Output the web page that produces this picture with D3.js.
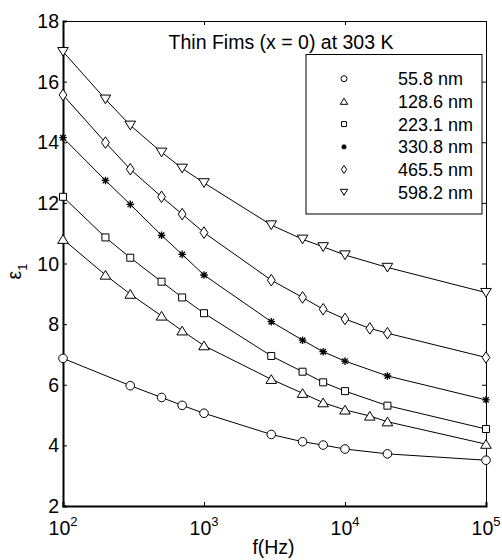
<!DOCTYPE html>
<html><head><meta charset="utf-8">
<script src="https://cdn.jsdelivr.net/npm/d3@7"></script>
<style>body{margin:0;background:#fff}svg{display:block;font-family:"Liberation Sans",Arial,sans-serif}</style>
</head><body><svg id="c" width="502" height="560"></svg>
<script>
// ---- data ----
const freqA = [100,300,500,700,1000,3000,5000,7000,10000,20000,100000];
const freqB = [100,200,300,500,700,1000,3000,5000,7000,10000,15000,20000,100000];
const freqC = [100,200,300,500,700,1000,3000,5000,7000,10000,20000,100000];
const eps558  = [6.87,5.97,5.58,5.32,5.06,4.36,4.12,4.01,3.88,3.72,3.51];
const eps1286 = [10.80,9.62,8.99,8.27,7.78,7.29,6.18,5.72,5.41,5.17,4.97,4.78,4.04];
const eps2231 = [12.20,10.86,10.19,9.40,8.88,8.36,6.95,6.43,6.08,5.79,5.31,4.54];
const eps3308 = [14.15,12.74,11.95,10.93,10.30,9.62,8.08,7.47,7.09,6.78,6.29,5.50];
const eps4655 = [15.56,13.99,13.11,12.20,11.63,11.02,9.45,8.88,8.49,8.17,7.86,7.70,6.90];
const eps5982 = [16.99,15.42,14.56,13.67,13.14,12.66,11.27,10.80,10.55,10.28,9.87,9.04];
const seriesNames = ["55.8 nm","128.6 nm","223.1 nm","330.8 nm","465.5 nm","598.2 nm"];
const seriesMarkers = ["circle","triangleUp","square","asterisk","diamond","triangleDown"];
const xTicks = [100,1000,10000,100000];
const xTickExp = ["2","3","4","5"];
const yTicks = [2,4,6,8,10,12,14,16,18];
const titleText = "Thin Fims (x = 0) at 303 K";

const series = [
  {name: seriesNames[0], marker: seriesMarkers[0], x: freqA, y: eps558},
  {name: seriesNames[1], marker: seriesMarkers[1], x: freqB, y: eps1286},
  {name: seriesNames[2], marker: seriesMarkers[2], x: freqC, y: eps2231},
  {name: seriesNames[3], marker: seriesMarkers[3], x: freqC, y: eps3308},
  {name: seriesNames[4], marker: seriesMarkers[4], x: freqB, y: eps4655},
  {name: seriesNames[5], marker: seriesMarkers[5], x: freqC, y: eps5982},
];

// ---- layout ----
const W = 502, H = 560;
const m = {l: 63, r: 16, t: 21, b: 54};
const svg = d3.select("#c");
const x = d3.scaleLog().domain([100, 100000]).range([m.l, W - m.r]);
const y = d3.scaleLinear().domain([2, 18]).range([H - m.b, m.t]);

function markerPath(type, s) {
  // s = scale factor
  const p = d3.path();
  if (type === "circle") { p.moveTo(4.3*s, 0); p.arc(0, 0, 4.3*s, 0, 2*Math.PI); }
  else if (type === "square") { const a = 3.5*s; p.rect(-a, -a, 2*a, 2*a); }
  else if (type === "diamond") { const w = 3.9*s, h = 5.8*s; p.moveTo(0,-h); p.lineTo(w,0); p.lineTo(0,h); p.lineTo(-w,0); p.closePath(); }
  else if (type === "triangleUp") { const w = 5.3*s, h = 4.6*s; p.moveTo(0,-h); p.lineTo(w,h*0.9); p.lineTo(-w,h*0.9); p.closePath(); }
  else if (type === "triangleDown") { const w = 5.3*s, h = 4.6*s; p.moveTo(0,h); p.lineTo(w,-h*0.9); p.lineTo(-w,-h*0.9); p.closePath(); }
  else if (type === "asterisk") {
    const r = 3.8*s, d = r*0.72;
    p.moveTo(-r,0); p.lineTo(r,0); p.moveTo(0,-r); p.lineTo(0,r);
    p.moveTo(-d,-d); p.lineTo(d,d); p.moveTo(-d,d); p.lineTo(d,-d);
  }
  return p.toString();
}

// ---- axes frame ----
const gx = svg.append("g").attr("transform", `translate(0,${H - m.b})`)
  .call(d3.axisBottom(x).tickValues(xTicks).tickSize(-4).tickFormat(""));
const gxTop = svg.append("g").attr("transform", `translate(0,${m.t})`)
  .call(d3.axisTop(x).tickValues(xTicks).tickSize(-4).tickFormat(""));
const gy = svg.append("g").attr("transform", `translate(${m.l},0)`)
  .call(d3.axisLeft(y).tickValues(yTicks).tickSize(-4).tickFormat(""));
const gyR = svg.append("g").attr("transform", `translate(${W - m.r},0)`)
  .call(d3.axisRight(y).tickValues(yTicks).tickSize(-4).tickFormat(""));
[gx, gxTop, gy, gyR].forEach(g => {
  g.selectAll("path.domain").attr("stroke", "#000").attr("stroke-width", 1);
  g.selectAll(".tick line").attr("stroke", "#000").attr("stroke-width", 1);
});
gx.select("path.domain").attr("stroke-width", 2);
gy.select("path.domain").attr("stroke-width", 2);

// tick labels
svg.append("g").selectAll("text").data(yTicks).join("text")
  .attr("x", m.l - 4).attr("y", d => y(d)).attr("dy", "0.36em")
  .attr("text-anchor", "end").attr("font-size", 19.5).text(d => d);
const xl = svg.append("g").selectAll("text").data(xTicks).join("text")
  .attr("x", d => x(d)).attr("y", H - m.b + 29)
  .attr("text-anchor", "middle").attr("font-size", 19.5);
xl.append("tspan").text("10");
xl.append("tspan").attr("dy", -9).attr("font-size", 13).text((d, i) => xTickExp[i]);

// axis titles
svg.append("text").attr("x", (m.l + W - m.r)/2 - 1).attr("y", H - 6)
  .attr("text-anchor", "middle").attr("font-size", 19.5).text("f(Hz)");
const yl = svg.append("text").attr("transform", `translate(21,${(m.t + H - m.b)/2 + 8}) rotate(-90)`)
  .attr("text-anchor", "middle").attr("font-size", 19.5);
yl.append("tspan").text("ε");
yl.append("tspan").attr("dy", 6).attr("font-size", 13).text("1");

// ---- lines and markers ----
const line = d3.line().x(d => x(d[0])).y(d => y(d[1]));
series.forEach(s => {
  const pts = s.x.map((v, i) => [v, s.y[i]]);
  svg.append("path").datum(pts).attr("d", line)
    .attr("fill", "none").attr("stroke", "#000").attr("stroke-width", 1);
  svg.append("g").selectAll("path").data(pts).join("path")
    .attr("transform", d => `translate(${x(d[0])},${y(d[1])})`)
    .attr("d", markerPath(s.marker, 1))
    .attr("fill", s.marker === "asterisk" ? "none" : "#fff")
    .attr("stroke", "#000").attr("stroke-width", s.marker === "asterisk" ? 1.3 : 1);
});

// ---- title ----
svg.append("text").attr("x", 281).attr("y", 48.5).attr("text-anchor", "middle")
  .attr("font-size", 19.5).text(titleText);

// ---- legend ----
const lg = svg.append("g");
lg.append("rect").attr("x", 306).attr("y", 54.5).attr("width", 176).attr("height", 159.5)
  .attr("fill", "#fff").attr("stroke", "#000").attr("stroke-width", 1);
const rows = lg.selectAll("g.row").data(series).join("g").attr("class", "row")
  .attr("transform", (d, i) => `translate(0,${78.7 + i*22.7})`);
rows.append("path").attr("transform", "translate(344,0)")
  .attr("d", d => markerPath(d.marker, 0.7))
  .attr("fill", "none").attr("stroke", "#000").attr("stroke-width", d => d.marker === "asterisk" ? 1.2 : 1);
rows.append("text").attr("x", 398).attr("dy", "0.36em").attr("font-size", 18).text(d => d.name);
</script></body></html>
